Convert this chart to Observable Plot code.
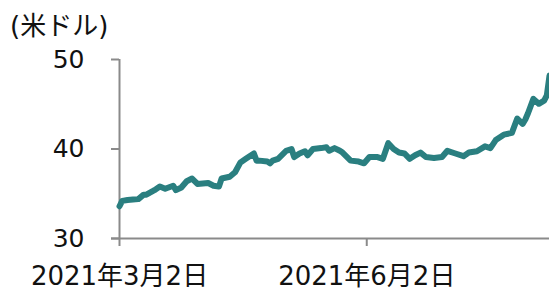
<!DOCTYPE html>
<html>
<head>
<meta charset="utf-8">
<script src="https://cdn.jsdelivr.net/npm/d3@7"></script>
<script src="https://cdn.jsdelivr.net/npm/@observablehq/plot@0.6"></script>
<style>
  body { margin: 0; background: #fff; }
  #wrap { position: relative; width: 549px; height: 290px; }
  #unit { position: absolute; left: 10px; top: 13px; font-family: "DejaVu Sans", "Noto Sans CJK JP", sans-serif; font-size: 26px; color: #111; line-height: 1; white-space: nowrap; }
</style>
</head>
<body>
<div id="wrap"><div id="unit">(米ドル)</div></div>
<script>
const dates = ["2021-03-02","2021-03-03","2021-03-05","2021-03-07","2021-03-09","2021-03-11","2021-03-12","2021-03-15","2021-03-17","2021-03-19","2021-03-22","2021-03-23","2021-03-25","2021-03-27","2021-03-29","2021-03-31","2021-04-04","2021-04-06","2021-04-08","2021-04-09","2021-04-12","2021-04-14","2021-04-16","2021-04-18","2021-04-21","2021-04-22","2021-04-23","2021-04-26","2021-04-27","2021-04-28","2021-04-30","2021-05-03","2021-05-05","2021-05-06","2021-05-08","2021-05-10","2021-05-11","2021-05-13","2021-05-16","2021-05-18","2021-05-19","2021-05-21","2021-05-23","2021-05-24","2021-05-27","2021-05-30","2021-06-01","2021-06-03","2021-06-06","2021-06-08","2021-06-10","2021-06-12","2021-06-14","2021-06-16","2021-06-18","2021-06-20","2021-06-22","2021-06-24","2021-06-27","2021-06-30","2021-07-02","2021-07-05","2021-07-08","2021-07-10","2021-07-13","2021-07-16","2021-07-18","2021-07-20","2021-07-23","2021-07-26","2021-07-28","2021-07-30","2021-07-31","2021-08-01","2021-08-03","2021-08-05","2021-08-07","2021-08-08","2021-08-09"];
const prices = [33.6,34.2,34.3,34.35,34.4,34.9,34.9,35.4,35.8,35.55,35.9,35.4,35.7,36.4,36.7,36.1,36.2,35.9,35.8,36.7,36.9,37.4,38.5,38.9,39.5,38.7,38.7,38.6,38.4,38.7,38.9,39.8,40.0,39.1,39.5,39.75,39.3,40.0,40.1,40.2,39.8,40.1,39.8,39.6,38.7,38.6,38.4,39.1,39.1,38.9,40.65,40.0,39.6,39.5,38.9,39.3,39.6,39.1,39.0,39.1,39.8,39.5,39.2,39.6,39.75,40.3,40.1,41.0,41.6,41.8,43.4,42.8,43.3,44.0,45.6,45.05,45.4,46.0,48.2];
const xTickDates = ["2021-03-02","2021-06-02"];
const xTickLabels = ["2021年3月2日","2021年6月2日"];
const yTicks = [30, 40, 50];
const xDomain = ["2021-03-02","2021-08-09"];

const parse = d3.utcParse("%Y-%m-%d");
const data = dates.map((d, i) => ({date: parse(d), value: prices[i]}));
const xt = xTickDates.map(parse);
const labelFor = new Map(xt.map((d, i) => [+d, xTickLabels[i]]));

const axisColor = "#8a8a8a";
const chart = Plot.plot({
  width: 549,
  height: 290,
  marginLeft: 119,
  marginRight: 0,
  marginTop: 59,
  marginBottom: 52,
  style: {fontFamily: "'DejaVu Sans', 'Noto Sans CJK JP', sans-serif", color: "#111", background: "transparent", overflow: "visible"},
  x: {type: "utc", domain: xDomain.map(parse)},
  y: {domain: [30, 50]},
  marks: [
    Plot.ruleY([30], {stroke: axisColor, strokeWidth: 2, insetLeft: -8}),
    Plot.ruleX([parse(xDomain[0])], {y1: 30, y2: 50, stroke: axisColor, strokeWidth: 2}),
    Plot.axisY({ticks: yTicks, tickSize: 8, tickPadding: 27, stroke: axisColor, strokeWidth: 2, strokeOpacity: 1, fontSize: 25, fill: "#111", label: null}),
    Plot.axisX({ticks: xt, tickSize: 8, tickPadding: 20, stroke: axisColor, strokeWidth: 2, strokeOpacity: 1, fontSize: 26, fill: "#111", label: null, tickFormat: d => labelFor.get(+d)}),
    Plot.line(data, {x: "date", y: "value", stroke: "#2a7f80", strokeWidth: 6, strokeLinejoin: "round", strokeLinecap: "round"})
  ]
});
document.getElementById("wrap").appendChild(chart);
chart.style.position = "absolute";
chart.style.left = "0";
chart.style.top = "0";
</script>
</body>
</html>
